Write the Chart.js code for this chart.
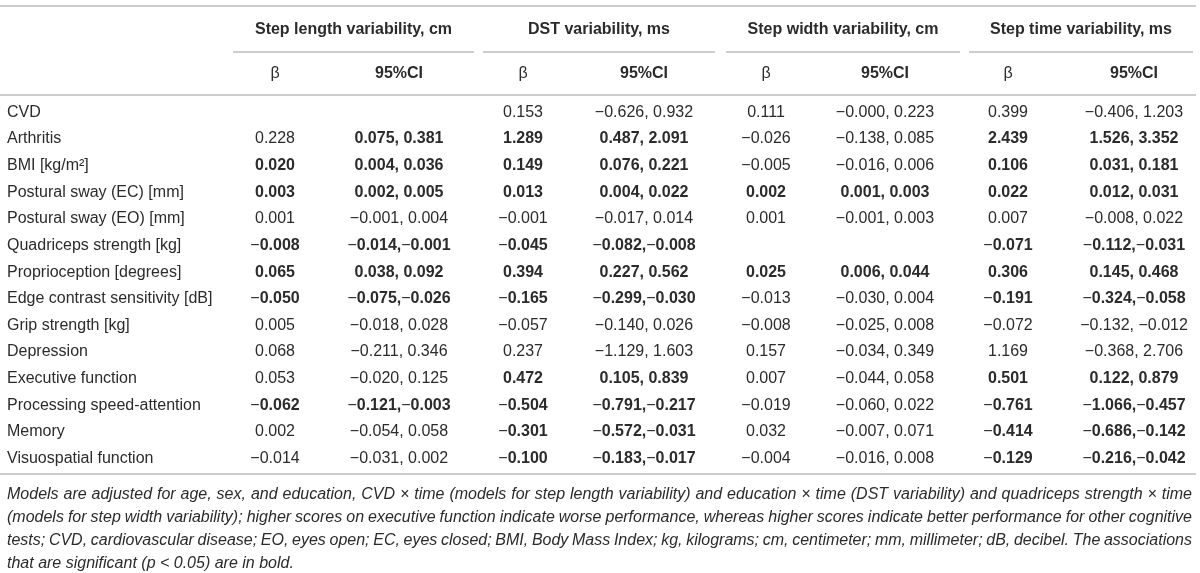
<!DOCTYPE html>
<html>
<head>
<meta charset="utf-8">
<script src="https://cdn.jsdelivr.net/npm/chart.js@4.4.1/dist/chart.umd.min.js"></script>
<style>
html, body { margin: 0; padding: 0; background: #fff; }
#wrap { width: 1200px; height: 573px; }
</style>
</head>
<body>
<div id="wrap"><canvas id="tabla" width="1200" height="573"></canvas></div>
<script>
// filas de la tabla
var rowLabels = ['CVD', 'Arthritis', 'BMI [kg/m\u00b2]', 'Postural sway (EC) [mm]', 'Postural sway (EO) [mm]',
	'Quadriceps strength [kg]', 'Proprioception [degrees]', 'Edge contrast sensitivity [dB]', 'Grip strength [kg]',
	'Depression', 'Executive function', 'Processing speed-attention', 'Memory', 'Visuospatial function'];

var groupTitles = ['Step length variability, cm', 'DST variability, ms', 'Step width variability, cm', 'Step time variability, ms'];
var subHeads = ['\u03b2', '95%CI'];

// a leading * marks a significant (bold) cell
var lenBeta = ['', '0.228', '*0.020', '*0.003', '0.001', '*\u22120.008', '*0.065', '*\u22120.050', '0.005', '0.068', '0.053', '*\u22120.062', '0.002', '\u22120.014'];
var lenCI = ['', '*0.075, 0.381', '*0.004, 0.036', '*0.002, 0.005', '\u22120.001, 0.004', '*\u22120.014,\u22120.001', '*0.038, 0.092', '*\u22120.075,\u22120.026', '\u22120.018, 0.028', '\u22120.211, 0.346', '\u22120.020, 0.125', '*\u22120.121,\u22120.003', '\u22120.054, 0.058', '\u22120.031, 0.002'];

var dstBeta = ['0.153', '*1.289', '*0.149', '*0.013', '\u22120.001', '*\u22120.045', '*0.394', '*\u22120.165', '\u22120.057', '0.237', '*0.472', '*\u22120.504', '*\u22120.301', '*\u22120.100'];
var dstCI = ['\u22120.626, 0.932', '*0.487, 2.091', '*0.076, 0.221', '*0.004, 0.022', '\u22120.017, 0.014', '*\u22120.082,\u22120.008', '*0.227, 0.562', '*\u22120.299,\u22120.030', '\u22120.140, 0.026', '\u22121.129, 1.603', '*0.105, 0.839', '*\u22120.791,\u22120.217', '*\u22120.572,\u22120.031', '*\u22120.183,\u22120.017'];

var widthBeta = ['0.111', '\u22120.026', '\u22120.005', '*0.002', '0.001', '', '*0.025', '\u22120.013', '\u22120.008', '0.157', '0.007', '\u22120.019', '0.032', '\u22120.004'];
var widthCI = ['\u22120.000, 0.223', '\u22120.138, 0.085', '\u22120.016, 0.006', '*0.001, 0.003', '\u22120.001, 0.003', '', '*0.006, 0.044', '\u22120.030, 0.004', '\u22120.025, 0.008', '\u22120.034, 0.349', '\u22120.044, 0.058', '\u22120.060, 0.022', '\u22120.007, 0.071', '\u22120.016, 0.008'];

var timeBeta = ['0.399', '*2.439', '*0.106', '*0.022', '0.007', '*\u22120.071', '*0.306', '*\u22120.191', '\u22120.072', '1.169', '*0.501', '*\u22120.761', '*\u22120.414', '*\u22120.129'];
var timeCI = ['\u22120.406, 1.203', '*1.526, 3.352', '*0.031, 0.181', '*0.012, 0.031', '\u22120.008, 0.022', '*\u22120.112,\u22120.031', '*0.145, 0.468', '*\u22120.324,\u22120.058', '\u22120.132, \u22120.012', '\u22120.368, 2.706', '*0.122, 0.879', '*\u22121.066,\u22120.457', '*\u22120.686,\u22120.142', '*\u22120.216,\u22120.042'];

var footnote = [
	'Models are adjusted for age, sex, and education, CVD \u00d7 time (models for step length variability) and education \u00d7 time (DST variability) and quadriceps strength \u00d7 time',
	'(models for step width variability); higher scores on executive function indicate worse performance, whereas higher scores indicate better performance for other cognitive',
	'tests; CVD, cardiovascular disease; EO, eyes open; EC, eyes closed; BMI, Body Mass Index; kg, kilograms; cm, centimeter; mm, millimeter; dB, decibel. The associations',
	'that are significant (p < 0.05) are in bold.'
];

// layout (pixels on x, row units on y)
var labelX = 7;
var colX = [275, 399, 523, 644, 766, 885, 1008, 1134];
var groupSpan = [[233, 474], [483, 715], [726, 960], [969, 1193]];
var yTopRule = -4.0, yTitle = -3.1, yUnder = -2.27, ySub = -1.45, yHeadRule = -0.66, yBottomRule = 13.59;
var yFoot = [14.38, 15.24, 16.11, 16.94];

var FAM = '"Liberation Sans", Arial, Helvetica, sans-serif';
var INK = '#2b2b2b';

function drawCell(ctx, txt, x, y, align, bold) {
	// bold cells keep the minus sign in normal weight
	var runs = [];
	if (bold) {
		var parts = txt.split('\u2212');
		parts.forEach(function(p, k){
			if (k > 0) runs.push({t: '\u2212', b: false});
			if (p) runs.push({t: p, b: true});
		});
	} else {
		runs.push({t: txt, b: false});
	}
	var total = 0;
	runs.forEach(function(r){
		ctx.font = (r.b ? 'bold ' : '') + '16px ' + FAM;
		r.w = ctx.measureText(r.t).width;
		total += r.w;
	});
	var cx = align === 'left' ? x : x - total / 2;
	ctx.textAlign = 'left';
	runs.forEach(function(r){
		ctx.font = (r.b ? 'bold ' : '') + '16px ' + FAM;
		ctx.fillText(r.t, cx, y);
		cx += r.w;
	});
}

function drawJustified(ctx, line, x0, x1, y, justify) {
	if (!justify) { ctx.textAlign = 'left'; ctx.fillText(line, x0, y); return; }
	var words = line.split(' ');
	var widths = words.map(function(w){ return ctx.measureText(w).width; });
	var sum = widths.reduce(function(a, b){ return a + b; }, 0);
	var gap = (x1 - x0 - sum) / (words.length - 1);
	var cx = x0;
	ctx.textAlign = 'left';
	words.forEach(function(w, k){
		ctx.fillText(w, cx, y);
		cx += widths[k] + gap;
	});
}

var tablaPlugin = {
	id: 'tabla',
	afterDatasetsDraw: function(chart) {
		var ctx = chart.ctx;
		var xs = chart.scales.x, ys = chart.scales.y;
		ctx.save();

		// reglas horizontales
		ctx.strokeStyle = '#cdcdcd';
		ctx.lineWidth = 2;
		function hLine(a, b, v) {
			var py = Math.round(ys.getPixelForValue(v));
			ctx.beginPath();
			ctx.moveTo(xs.getPixelForValue(a), py);
			ctx.lineTo(xs.getPixelForValue(b), py);
			ctx.stroke();
		}
		hLine(0, 1196, yTopRule);
		groupSpan.forEach(function(s){ hLine(s[0], s[1], yUnder); });
		hLine(0, 1196, yHeadRule);
		hLine(0, 1196, yBottomRule);

		ctx.fillStyle = INK;
		ctx.textBaseline = 'middle';

		// encabezados
		groupTitles.forEach(function(t, g){
			var mid = (groupSpan[g][0] + groupSpan[g][1]) / 2;
			ctx.font = 'bold 16px ' + FAM;
			ctx.textAlign = 'center';
			ctx.fillText(t, xs.getPixelForValue(mid), ys.getPixelForValue(yTitle));
		});
		colX.forEach(function(cx, c){
			ctx.font = (c % 2 ? 'bold ' : '') + '16px ' + FAM;
			ctx.textAlign = 'center';
			ctx.fillText(subHeads[c % 2], xs.getPixelForValue(cx), ys.getPixelForValue(ySub));
		});

		// celdas
		chart.data.datasets.forEach(function(ds, d){
			var meta = chart.getDatasetMeta(d);
			meta.data.forEach(function(pt, i){
				var txt = ds.cells[i];
				if (!txt) return;
				var bold = txt.charAt(0) === '*';
				if (bold) txt = txt.slice(1);
				drawCell(ctx, txt, pt.x, pt.y, ds.align, bold);
			});
		});

		// nota al pie
		ctx.font = 'italic 16px ' + FAM;
		footnote.forEach(function(line, k){
			drawJustified(ctx, line, xs.getPixelForValue(labelX), xs.getPixelForValue(1192),
				ys.getPixelForValue(yFoot[k]), k < footnote.length - 1);
		});

		ctx.restore();
	}
};

function columna(cells, x, align) {
	return {
		cells: cells,
		align: align,
		data: cells.map(function(v, i){ return {x: x, y: i}; }),
		pointRadius: 0,
		showLine: false
	};
}

window.onload = function(){
	var columnas = [lenBeta, lenCI, dstBeta, dstCI, widthBeta, widthCI, timeBeta, timeCI];
	var datasets = [columna(rowLabels, labelX, 'left')];
	columnas.forEach(function(c, k){ datasets.push(columna(c, colX[k], 'center')); });

	var ctx = document.getElementById('tabla').getContext('2d');
	new Chart(ctx, {
		type: 'scatter',
		data: { datasets: datasets },
		options: {
			responsive: false,
			animation: false,
			devicePixelRatio: 1,
			events: [],
			layout: { padding: 0 },
			plugins: { legend: { display: false }, tooltip: { enabled: false } },
			scales: {
				x: { type: 'linear', min: 0, max: 1200, display: false },
				y: { type: 'linear', min: -4.229, max: 17.312, reverse: true, display: false }
			}
		},
		plugins: [tablaPlugin]
	});
};
</script>
</body>
</html>
